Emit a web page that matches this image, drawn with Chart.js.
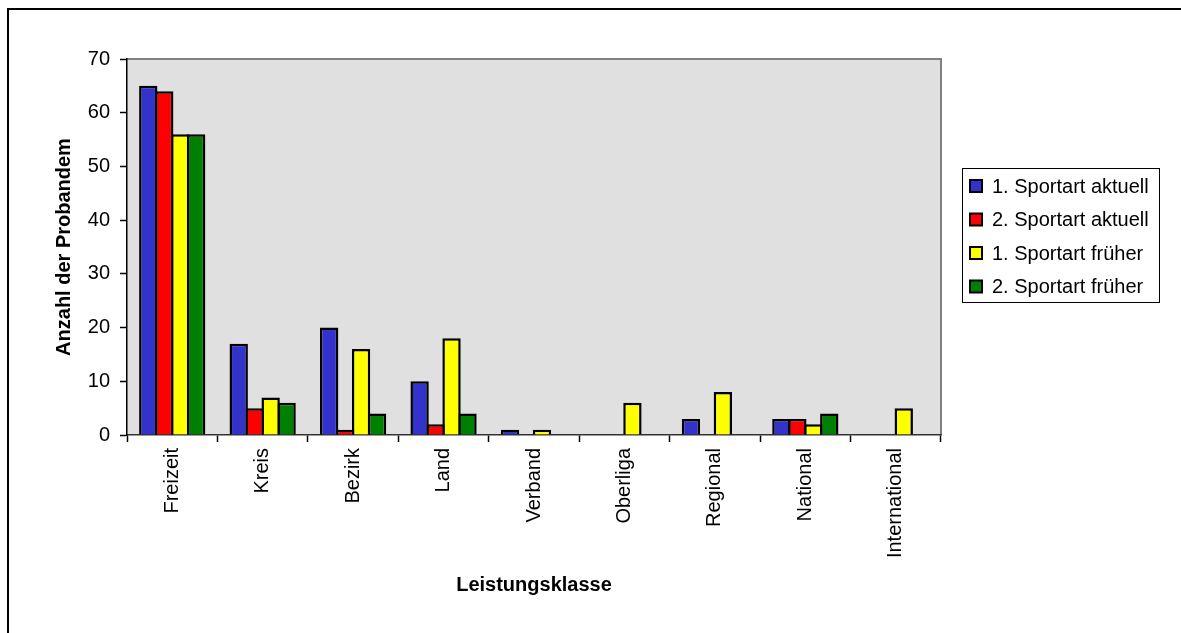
<!DOCTYPE html>
<html lang="de">
<head>
<meta charset="utf-8">
<title>Leistungsklasse</title>
<script src="https://cdn.jsdelivr.net/npm/chart.js@4"></script>
<style>
  html, body { margin: 0; padding: 0; background: #ffffff; overflow: hidden; }
  #wrap { position: relative; width: 1181px; height: 633px; }
  #frame {
    position: absolute; left: 7px; top: 8px; width: 1400px; height: 900px;
    border-left: 2px solid #000; border-top: 2px solid #000; pointer-events: none;
  }
  canvas { display: block; }
</style>
</head>
<body>
<div id="wrap">
  <canvas id="chart" width="1181" height="633"></canvas>
  <div id="frame"></div>
</div>
<script>
// Leistungsklassen (x-axis categories)
const categories = ['Freizeit', 'Kreis', 'Bezirk', 'Land', 'Verband', 'Oberliga', 'Regional', 'National', 'International'];

// Number of participants per class, one array per series
const sport1Current = [65, 17, 20, 10, 1, 0, 3, 3, 0];
const sport2Current = [64, 5, 1, 2, 0, 0, 0, 3, 0];
const sport1Former  = [56, 7, 16, 18, 1, 6, 8, 2, 5];
const sport2Former  = [56, 6, 4, 4, 0, 0, 0, 4, 0];

const seriesLabels = ['1. Sportart aktuell', '2. Sportart aktuell', '1. Sportart früher', '2. Sportart früher'];
const seriesColors = ['#3333CC', '#FF0000', '#FFFF00', '#008000'];

// y-axis range
const yMin = 0, yMax = 70, yStep = 10;

const FONT = 'Liberation Sans, Arial, sans-serif';

// gray plot background with a thin frame
const plotBackground = {
  id: 'plotBackground',
  beforeDraw(chart) {
    const { ctx, chartArea: a } = chart;
    ctx.save();
    ctx.fillStyle = '#E0E0E0';
    ctx.fillRect(a.left, a.top, a.right - a.left, a.bottom - a.top);
    ctx.strokeStyle = '#808080';
    ctx.lineWidth = 2;
    ctx.beginPath();
    ctx.moveTo(a.left, a.top);
    ctx.lineTo(a.right, a.top);
    ctx.lineTo(a.right, a.bottom);
    ctx.stroke();
    ctx.restore();
  }
};

// boxed legend to the right of the plot
const boxedLegend = {
  id: 'boxedLegend',
  afterDraw(chart) {
    const { ctx } = chart;
    const left = 962.5, top = 168.5, w = 197, h = 134;
    ctx.save();
    ctx.fillStyle = '#ffffff';
    ctx.fillRect(left, top, w, h);
    ctx.strokeStyle = '#000';
    ctx.lineWidth = 1;
    ctx.strokeRect(left, top, w, h);
    ctx.font = '20px ' + FONT;
    ctx.textBaseline = 'middle';
    ctx.textAlign = 'left';
    chart.data.datasets.forEach((ds, i) => {
      const cy = 186 + i * 33.5;
      ctx.fillStyle = ds.backgroundColor;
      ctx.fillRect(970, cy - 6, 12, 12);
      ctx.lineWidth = 2;
      ctx.strokeStyle = '#000';
      ctx.strokeRect(970, cy - 6, 12, 12);
      ctx.fillStyle = '#000';
      ctx.fillText(ds.label, 992, cy + 1);
    });
    ctx.restore();
  }
};

const seriesData = [sport1Current, sport2Current, sport1Former, sport2Former];

new Chart(document.getElementById('chart'), {
  type: 'bar',
  data: {
    labels: categories,
    datasets: seriesData.map((values, i) => ({
      label: seriesLabels[i],
      data: values,
      backgroundColor: seriesColors[i],
      borderColor: '#000000',
      borderWidth: 2.5,
      borderSkipped: 'start',
      // neighbouring bars share their outline
      categoryPercentage: 0.706,
      barPercentage: 1.15
    }))
  },
  options: {
    responsive: false,
    animation: false,
    events: [],
    layout: { padding: { left: 0, top: 59, right: 240, bottom: 0 } },
    plugins: {
      legend: { display: false },
      title: { display: false },
      tooltip: { enabled: false }
    },
    scales: {
      x: {
        grid: {
          offset: true,
          drawOnChartArea: false,
          drawTicks: true,
          tickLength: 7,
          tickWidth: 1.5,
          color: '#000000'
        },
        border: { display: true, color: '#333333', width: 1.5 },
        ticks: {
          autoSkip: false,
          minRotation: 90,
          maxRotation: 90,
          padding: 6,
          color: '#000000',
          font: { family: FONT, size: 20 }
        },
        title: {
          display: true,
          text: 'Leistungsklasse',
          color: '#000000',
          font: { family: FONT, size: 20, weight: 'bold' },
          padding: { top: 4, bottom: 36 }
        },
        afterFit(scale) { scale.height = 198; }
      },
      y: {
        min: yMin,
        max: yMax,
        grid: {
          drawOnChartArea: false,
          drawTicks: true,
          tickLength: 7,
          tickWidth: 1.5,
          color: '#000000'
        },
        border: { display: true, color: '#000000', width: 1.5 },
        ticks: {
          stepSize: yStep,
          padding: 10,
          color: '#000000',
          font: { family: FONT, size: 20 }
        },
        title: {
          display: true,
          text: 'Anzahl der Probandem',
          color: '#000000',
          font: { family: FONT, size: 20, weight: 'bold' },
          padding: { top: 52, bottom: 4 }
        },
        afterFit(scale) { scale.width = 127; }
      }
    }
  },
  plugins: [plotBackground, boxedLegend]
});
</script>
</body>
</html>
